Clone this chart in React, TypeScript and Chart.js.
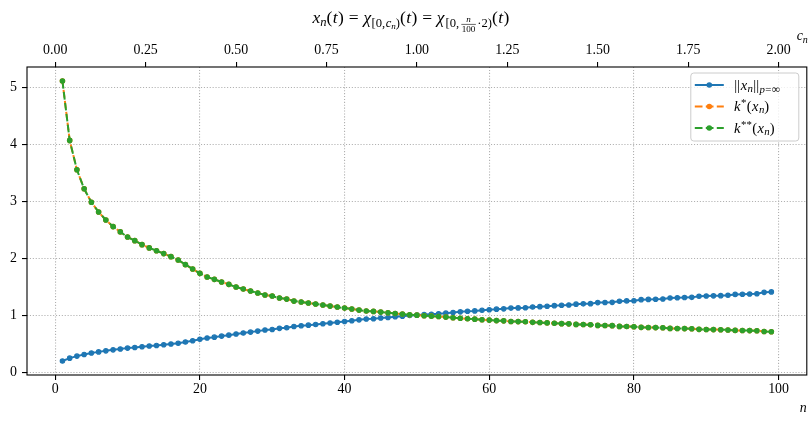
import React, { useEffect, useRef } from 'react';
import { Chart, registerables } from 'chart.js';

Chart.register(...registerables);

// ---------- data ----------
const nValues = [
  1, 2, 3, 4, 5, 6, 7, 8, 9, 10, 11, 12, 13, 14, 15, 16, 17, 18, 19, 20,
  21, 22, 23, 24, 25, 26, 27, 28, 29, 30, 31, 32, 33, 34, 35, 36, 37, 38, 39, 40,
  41, 42, 43, 44, 45, 46, 47, 48, 49, 50, 51, 52, 53, 54, 55, 56, 57, 58, 59, 60,
  61, 62, 63, 64, 65, 66, 67, 68, 69, 70, 71, 72, 73, 74, 75, 76, 77, 78, 79, 80,
  81, 82, 83, 84, 85, 86, 87, 88, 89, 90, 91, 92, 93, 94, 95, 96, 97, 98, 99,
];

const normInf = [
  0.196, 0.246, 0.282, 0.311, 0.336, 0.356, 0.374, 0.392, 0.407, 0.422,
  0.433, 0.447, 0.459, 0.469, 0.481, 0.494, 0.508, 0.53, 0.552, 0.577,
  0.599, 0.614, 0.633, 0.649, 0.67, 0.686, 0.703, 0.72, 0.739, 0.749,
  0.769, 0.78, 0.802, 0.813, 0.825, 0.837, 0.85, 0.863, 0.876, 0.89,
  0.903, 0.918, 0.933, 0.938, 0.949, 0.96, 0.971, 0.981, 0.993, 1.0,
  1.01, 1.017, 1.025, 1.035, 1.047, 1.058, 1.068, 1.075, 1.087, 1.095,
  1.105, 1.111, 1.124, 1.127, 1.131, 1.144, 1.149, 1.157, 1.167, 1.175,
  1.179, 1.193, 1.198, 1.202, 1.22, 1.222, 1.225, 1.245, 1.25, 1.253,
  1.272, 1.276, 1.279, 1.284, 1.302, 1.305, 1.309, 1.312, 1.332, 1.335,
  1.339, 1.342, 1.349, 1.364, 1.368, 1.372, 1.376, 1.4, 1.408,
];

const kStar = [
  5.107, 4.065, 3.55, 3.216, 2.98, 2.81, 2.67, 2.553, 2.46, 2.37,
  2.307, 2.237, 2.18, 2.13, 2.08, 2.026, 1.968, 1.886, 1.81, 1.733,
  1.669, 1.628, 1.581, 1.54, 1.493, 1.458, 1.423, 1.388, 1.353, 1.335,
  1.3, 1.282, 1.247, 1.23, 1.212, 1.195, 1.177, 1.159, 1.142, 1.124,
  1.107, 1.089, 1.072, 1.066, 1.054, 1.042, 1.03, 1.019, 1.007, 1.0,
  0.99, 0.983, 0.976, 0.966, 0.955, 0.945, 0.936, 0.93, 0.92, 0.913,
  0.905, 0.9, 0.89, 0.887, 0.884, 0.874, 0.87, 0.864, 0.857, 0.851,
  0.848, 0.838, 0.835, 0.832, 0.82, 0.818, 0.816, 0.803, 0.8, 0.798,
  0.786, 0.784, 0.782, 0.779, 0.768, 0.766, 0.764, 0.762, 0.751, 0.749,
  0.747, 0.745, 0.741, 0.733, 0.731, 0.729, 0.727, 0.714, 0.71,
];

const kStarStar = [
  5.107, 4.065, 3.55, 3.216, 2.98, 2.81, 2.67, 2.553, 2.46, 2.37,
  2.307, 2.237, 2.18, 2.13, 2.08, 2.026, 1.968, 1.886, 1.81, 1.733,
  1.669, 1.628, 1.581, 1.54, 1.493, 1.458, 1.423, 1.388, 1.353, 1.335,
  1.3, 1.282, 1.247, 1.23, 1.212, 1.195, 1.177, 1.159, 1.142, 1.124,
  1.107, 1.089, 1.072, 1.066, 1.054, 1.042, 1.03, 1.019, 1.007, 1.0,
  0.99, 0.983, 0.976, 0.966, 0.955, 0.945, 0.936, 0.93, 0.92, 0.913,
  0.905, 0.9, 0.89, 0.887, 0.884, 0.874, 0.87, 0.864, 0.857, 0.851,
  0.848, 0.838, 0.835, 0.832, 0.82, 0.818, 0.816, 0.803, 0.8, 0.798,
  0.786, 0.784, 0.782, 0.779, 0.768, 0.766, 0.764, 0.762, 0.751, 0.749,
  0.747, 0.745, 0.741, 0.733, 0.731, 0.729, 0.727, 0.714, 0.71,
];

const xTicks = [0, 20, 40, 60, 80, 100];
const yTicks = [0, 1, 2, 3, 4, 5];
const cTicks = [0, 0.25, 0.5, 0.75, 1.0, 1.25, 1.5, 1.75, 2.0];
const cPerN = 2 / 100; // c_n = n/100 * 2

// ---------- styling ----------
const SERIF = '"Liberation Serif", "DejaVu Serif", serif';
const BLUE = '#1f77b4';
const ORANGE = '#ff7f0e';
const GREEN = '#2ca02c';
const DASH = [7.7, 3.3];
const FS = 13.9;

type Run = { t?: string; it?: boolean; s?: number; dy?: number; frac?: [string, string]; dx?: number };

function fontFor(size: number, it?: boolean) {
  return `${it ? 'italic ' : ''}${size}px ${SERIF}`;
}

function runWidth(ctx: CanvasRenderingContext2D, r: Run, base: number) {
  const sz = base * (r.s ?? 1);
  if (r.frac) {
    ctx.font = fontFor(sz, true);
    const a = ctx.measureText(r.frac[0]).width;
    ctx.font = fontFor(sz, false);
    const b = ctx.measureText(r.frac[1]).width;
    return Math.max(a, b) + sz * 0.4;
  }
  ctx.font = fontFor(sz, r.it);
  return ctx.measureText(r.t || '').width + (r.dx ?? 0) * base;
}

function drawRich(
  ctx: CanvasRenderingContext2D,
  runs: Run[],
  x: number,
  y: number,
  base: number,
  align: 'left' | 'center' | 'right'
) {
  const ws = runs.map((r) => runWidth(ctx, r, base));
  const total = ws.reduce((a, b) => a + b, 0);
  let cx = align === 'left' ? x : align === 'center' ? x - total / 2 : x - total;
  ctx.textBaseline = 'alphabetic';
  ctx.textAlign = 'left';
  ctx.fillStyle = '#000';
  runs.forEach((r, i) => {
    const sz = base * (r.s ?? 1);
    const yy = y + (r.dy ?? 0) * base;
    if (r.frac) {
      const w = ws[i];
      const mid = cx + w / 2;
      ctx.textAlign = 'center';
      ctx.font = fontFor(sz, true);
      ctx.fillText(r.frac[0], mid, yy - sz * 0.22);
      ctx.font = fontFor(sz, false);
      ctx.fillText(r.frac[1], mid, yy + sz * 0.85);
      ctx.textAlign = 'left';
      ctx.strokeStyle = '#000';
      ctx.lineWidth = 0.6;
      ctx.beginPath();
      ctx.moveTo(cx + sz * 0.15, yy);
      ctx.lineTo(cx + w - sz * 0.15, yy);
      ctx.stroke();
    } else {
      ctx.font = fontFor(sz, r.it);
      const lead = (r.dx ?? 0) * base * 0.5;
      ctx.fillText(r.t || '', cx + lead, yy);
    }
    cx += ws[i];
  });
}

const titleRuns: Run[] = [
  { t: 'x', it: true },
  { t: 'n', it: true, s: 0.72, dy: 0.15 },
  { t: '(' },
  { t: 't', it: true, dx: 0.05 },
  { t: ')' },
  { t: '=', dx: 0.55 },
  { t: 'χ', it: true },
  { t: '[0,', s: 0.72, dy: 0.25, dx: 0.05 },
  { t: 'c', it: true, s: 0.72, dy: 0.25 },
  { t: 'n', it: true, s: 0.52, dy: 0.35 },
  { t: ')', s: 0.72, dy: 0.25 },
  { t: '(' },
  { t: 't', it: true, dx: 0.05 },
  { t: ')' },
  { t: '=', dx: 0.55 },
  { t: 'χ', it: true },
  { t: '[0,', s: 0.72, dy: 0.25, dx: 0.1 },
  { frac: ['n', '100'], s: 0.52, dy: 0.08 },
  { t: '·2)', s: 0.72, dy: 0.25 },
  { t: '(' },
  { t: 't', it: true, dx: 0.05 },
  { t: ')' },
];

const LFS = 14.6;
const legendEntries: { runs: Run[]; color: string; dash: number[] }[] = [
  {
    runs: [
      { t: '||', dx: 0.05 },
      { t: 'x', it: true, dx: 0.05 },
      { t: 'n', it: true, s: 0.74, dy: 0.15 },
      { t: '||', dx: 0.05 },
      { t: 'p', it: true, s: 0.74, dy: 0.25 },
      { t: '=', s: 0.74, dy: 0.25, dx: 0.05 },
      { t: '∞', s: 0.8, dy: 0.25 },
    ],
    color: BLUE,
    dash: [],
  },
  {
    runs: [
      { t: 'k', it: true, dx: 0.03 },
      { t: '*', s: 0.74, dy: -0.35, dx: 0.05 },
      { t: '(' },
      { t: 'x', it: true, dx: 0.05 },
      { t: 'n', it: true, s: 0.74, dy: 0.15 },
      { t: ')' },
    ],
    color: ORANGE,
    dash: DASH,
  },
  {
    runs: [
      { t: 'k', it: true, dx: 0.03 },
      { t: '**', s: 0.74, dy: -0.35, dx: 0.05 },
      { t: '(' },
      { t: 'x', it: true, dx: 0.05 },
      { t: 'n', it: true, s: 0.74, dy: 0.15 },
      { t: ')' },
    ],
    color: GREEN,
    dash: DASH,
  },
];

const decorPlugin = {
  id: 'decor',
  afterDraw(chart: any) {
    const ctx: CanvasRenderingContext2D = chart.ctx;
    const a = chart.chartArea;
    ctx.save();
    // frame (spines)
    ctx.strokeStyle = '#000';
    ctx.lineWidth = 1.1;
    ctx.setLineDash([]);
    ctx.strokeRect(a.left, a.top, a.right - a.left, a.bottom - a.top);

    // title
    drawRich(ctx, titleRuns, (a.left + a.right) / 2 - 6, 23, 17.5, 'center');
    // secondary axis label c_n
    drawRich(ctx, [{ t: 'c', it: true }, { t: 'n', it: true, s: 0.72, dy: 0.18 }], a.right + 1, 40, FS, 'right');
    // primary axis label n
    drawRich(ctx, [{ t: 'n', it: true }], a.right, 412, FS, 'right');

    // legend
    const bw = 108;
    const bh = 68;
    const br = a.right - 8;
    const bt = a.top + 6;
    const bl = br - bw;
    ctx.beginPath();
    const rr = 3;
    ctx.moveTo(bl + rr, bt);
    ctx.lineTo(br - rr, bt);
    ctx.quadraticCurveTo(br, bt, br, bt + rr);
    ctx.lineTo(br, bt + bh - rr);
    ctx.quadraticCurveTo(br, bt + bh, br - rr, bt + bh);
    ctx.lineTo(bl + rr, bt + bh);
    ctx.quadraticCurveTo(bl, bt + bh, bl, bt + bh - rr);
    ctx.lineTo(bl, bt + rr);
    ctx.quadraticCurveTo(bl, bt, bl + rr, bt);
    ctx.closePath();
    ctx.fillStyle = 'rgba(255,255,255,0.8)';
    ctx.fill();
    ctx.strokeStyle = '#cccccc';
    ctx.lineWidth = 1;
    ctx.stroke();

    legendEntries.forEach((e, i) => {
      const cy = bt + 12 + i * 21.5;
      const hx0 = bl + 4;
      const hx1 = hx0 + 29;
      ctx.strokeStyle = e.color;
      ctx.lineWidth = 2;
      ctx.setLineDash(e.dash);
      ctx.beginPath();
      ctx.moveTo(hx0, cy);
      ctx.lineTo(hx1, cy);
      ctx.stroke();
      ctx.setLineDash([]);
      ctx.fillStyle = e.color;
      ctx.beginPath();
      ctx.arc((hx0 + hx1) / 2, cy, 2.8, 0, Math.PI * 2);
      ctx.fill();
      drawRich(ctx, e.runs, hx1 + 10, cy + 4.8, LFS, 'left');
    });
    ctx.restore();
  },
};

function pad(vals: number[][]) {
  const all = vals.flat();
  const lo = Math.min(...all);
  const hi = Math.max(...all);
  const m = (hi - lo) * 0.05;
  return [lo - m, hi + m];
}

export default function App() {
  const ref = useRef<HTMLCanvasElement | null>(null);
  useEffect(() => {
    if (!ref.current) return;
    const [xMin, xMax] = pad([nValues]);
    const [yMin, yMax] = pad([normInf, kStar, kStarStar]);
    const tickFont = { family: SERIF, size: FS };
    const gridCommon = {
      color: '#b0b0b0',
      lineWidth: 1.1,
      tickColor: '#000',
      tickLength: 5,
      tickWidth: 1.1,
    };
    const mk = (vals: number[]) => nValues.map((n, i) => ({ x: n, y: vals[i] }));
    const chart = new Chart(ref.current, {
      type: 'line',
      data: {
        datasets: [
          {
            label: 'k**(x_n)',
            data: mk(kStarStar),
            borderColor: GREEN,
            backgroundColor: GREEN,
            borderWidth: 2,
            borderDash: DASH,
            pointRadius: 2.2,
            pointBorderWidth: 1.2,
            pointBackgroundColor: GREEN,
            pointBorderColor: GREEN,
            order: 0,
          },
          {
            label: 'k*(x_n)',
            data: mk(kStar),
            borderColor: ORANGE,
            backgroundColor: ORANGE,
            borderWidth: 2,
            borderDash: DASH,
            borderDashOffset: 2,
            pointRadius: 2.2,
            pointBorderWidth: 1.2,
            pointBackgroundColor: ORANGE,
            pointBorderColor: ORANGE,
            order: 1,
          },
          {
            label: '||x_n||',
            data: mk(normInf),
            borderColor: BLUE,
            backgroundColor: BLUE,
            borderWidth: 2,
            pointRadius: 2.2,
            pointBorderWidth: 1.2,
            pointBackgroundColor: BLUE,
            pointBorderColor: BLUE,
            order: 2,
          },
        ],
      },
      options: {
        responsive: false,
        animation: false,
        devicePixelRatio: 1,
        layout: { padding: { left: 0, right: 5, top: 0, bottom: 0 } },
        elements: { line: { tension: 0 } },
        plugins: {
          legend: { display: false },
          tooltip: { enabled: false },
          title: { display: false },
        },
        scales: {
          x: {
            type: 'linear',
            position: 'bottom',
            min: xMin,
            max: xMax,
            afterBuildTicks: (s: any) => {
              s.ticks = xTicks.map((v) => ({ value: v }));
            },
            afterFit: (s: any) => {
              s.height = 50;
            },
            ticks: {
              autoSkip: false,
              maxRotation: 0,
              padding: 1,
              color: '#000',
              font: tickFont,
              callback: (v: any) => String(v),
            },
            grid: { ...gridCommon, drawOnChartArea: true },
            border: { display: false, dash: [1.1, 1.8] },
          },
          x2: {
            type: 'linear',
            position: 'top',
            min: xMin * cPerN,
            max: xMax * cPerN,
            afterBuildTicks: (s: any) => {
              s.ticks = cTicks.map((v) => ({ value: v }));
            },
            afterFit: (s: any) => {
              s.height = 67;
            },
            ticks: {
              autoSkip: false,
              maxRotation: 0,
              padding: 3,
              color: '#000',
              font: tickFont,
              callback: (v: any) => Number(v).toFixed(2),
            },
            grid: { ...gridCommon, drawOnChartArea: false },
            border: { display: false },
          },
          y: {
            type: 'linear',
            position: 'left',
            min: yMin,
            max: yMax,
            afterBuildTicks: (s: any) => {
              s.ticks = yTicks.map((v) => ({ value: v }));
            },
            afterFit: (s: any) => {
              s.width = 27;
            },
            ticks: {
              autoSkip: false,
              padding: 5,
              color: '#000',
              font: tickFont,
              callback: (v: any) => String(v),
            },
            grid: { ...gridCommon, drawOnChartArea: true },
            border: { display: false, dash: [1.1, 1.8] },
          },
        },
      } as any,
      plugins: [decorPlugin],
    });
    return () => chart.destroy();
  }, []);

  return (
    <div style={{ position: 'fixed', left: 0, top: 0, width: 812, height: 425, background: '#fff' }}>
      <canvas ref={ref} width={812} height={425} style={{ display: 'block' }} />
    </div>
  );
}
